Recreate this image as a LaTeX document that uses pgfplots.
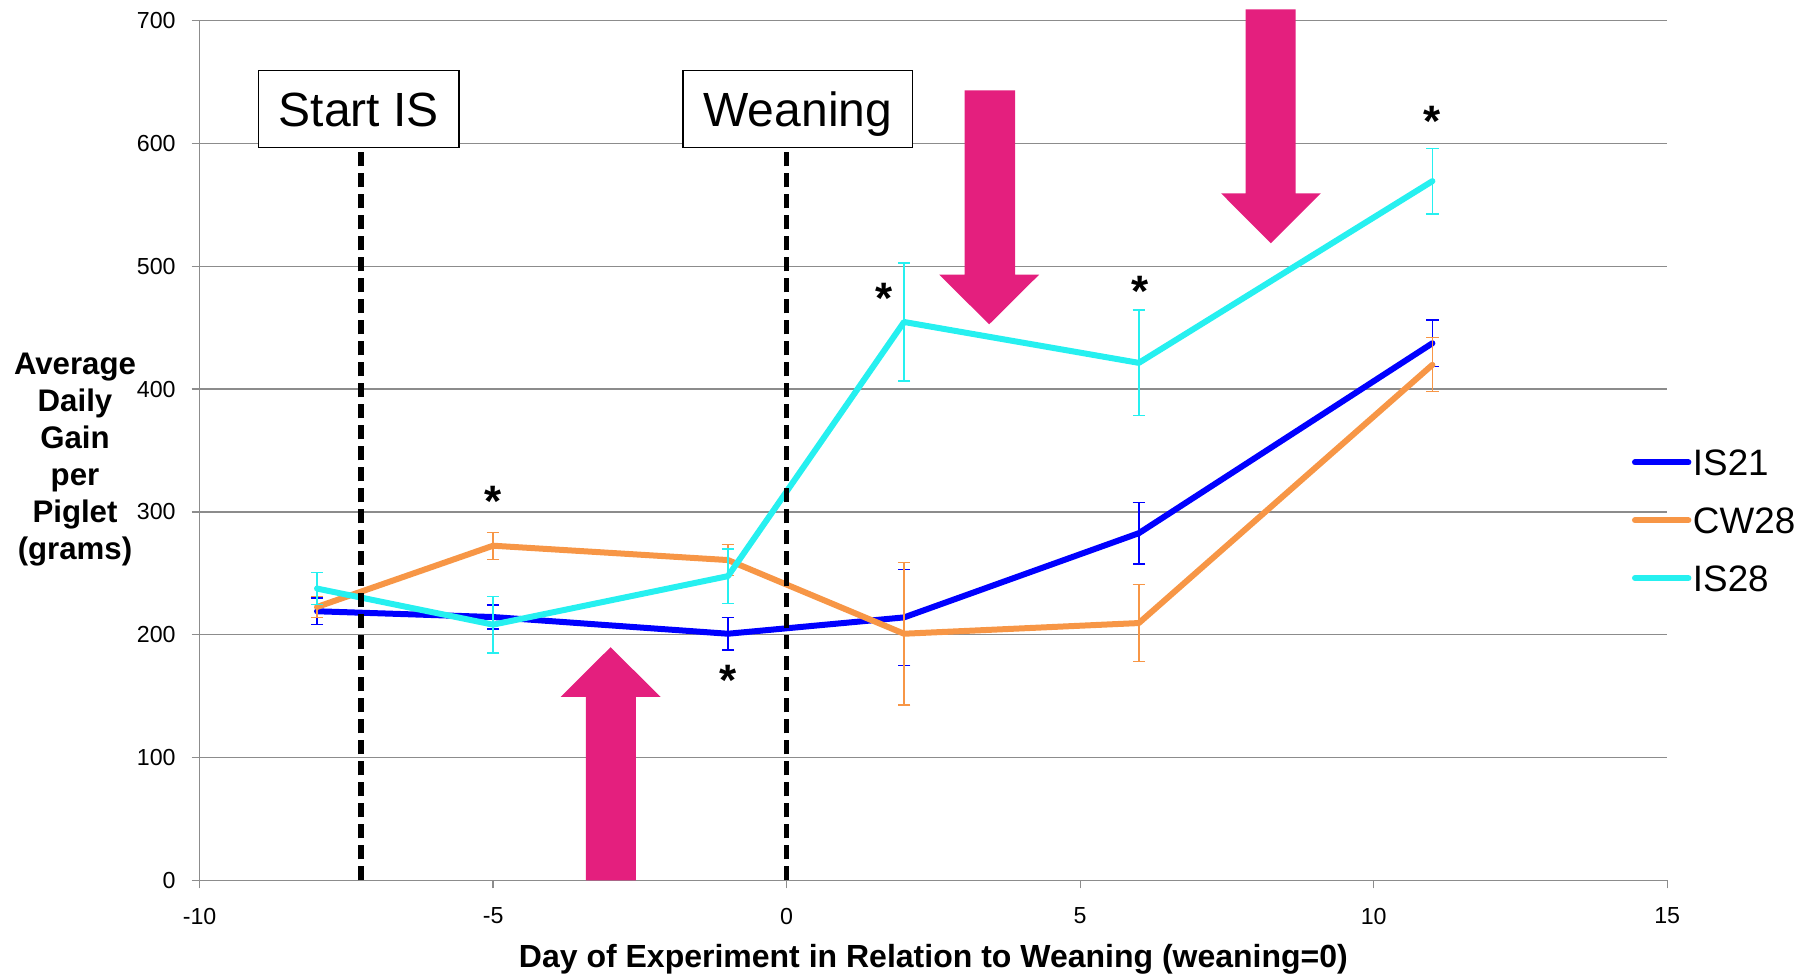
\documentclass[border=0pt]{standalone}
\usepackage{pgfplots}
\pgfplotsset{compat=1.18}
\usepackage{pgfplotstable}
\usepackage{fontspec}
\setmainfont{Liberation Sans}
\definecolor{cIS}{HTML}{0000FF}
\definecolor{cCW}{HTML}{F79646}
\definecolor{cIST}{HTML}{26F0F0}
\definecolor{cPink}{HTML}{E41F7E}
\definecolor{cGrid}{HTML}{8C8C8C}

\pgfplotstableread{
x y e
-8 219.1 10.8
-5 214.4 9.7
-1 200.8 13.2
2 214.1 38.9
6 282.7 25
11 437.4 19
}\tISa
\pgfplotstableread{
x y e
-8 222.6 8.6
-5 272.5 11
-1 260.8 12.8
2 200.8 58
6 209.5 31.5
11 419.8 22
}\tCW
\pgfplotstableread{
x y e
-8 237.6 13.2
-5 208.2 23
-1 247.7 22
2 454.7 48
6 421.4 43
11 569.4 26.7
}\tISb

\tikzset{star/.style={anchor=base, inner sep=0pt, yshift=-10.6pt, font=\bfseries\fontsize{22}{22}\selectfont}}

\begin{document}
\begin{tikzpicture}
\begin{axis}[
  scale only axis, width=733.8pt, height=429.75pt,
  xmin=-10, xmax=15, ymin=0, ymax=700,
  xtick distance=5, ytick distance=100,
  clip=false,
  axis lines=left, axis line style={-, cGrid, line width=0.65pt},
  tick align=outside, major tick length=4pt,
  tick style={cGrid, line width=0.65pt},
  ymajorgrids, major grid style={cGrid, line width=0.65pt},
  /pgf/number format/assume math mode=true,
  xticklabel style={font=\fontsize{11.6}{11.6}\selectfont, inner sep=0pt, anchor=north, yshift=-9.6pt},
  yticklabel style={font=\fontsize{11.6}{11.6}\selectfont, inner sep=0pt, anchor=east, xshift=-7.8pt},
  xlabel={Day of Experiment in Relation to Weaning (weaning=0)},
  xlabel style={at={(axis description cs:0.5,0)}, anchor=base, yshift=-43.5pt, inner sep=0pt, font=\bfseries\fontsize{16}{16}\selectfont},
  ylabel={Average\\Daily\\Gain\\per\\Piglet\\(grams)},
  ylabel style={rotate=-90, at={(axis description cs:0,0.4896)}, anchor=center, xshift=-62.3pt, align=center, inner sep=0pt, font=\bfseries\fontsize{15.6}{18.5}\selectfont},
  legend cell align=left,
  legend image code/.code={\draw[#1, line cap=round] (0pt,0pt) -- (26.7pt,0pt);},
  legend style={at={(axis cs:14.40,293.2)}, anchor=west, draw=none, fill=none, inner sep=0pt, outer sep=0pt, row sep=15.7pt, /tikz/column sep=0.8pt, font=\fontsize{18.4}{18.4}\selectfont, nodes={inner sep=0pt, text height=13.2pt, text depth=0pt}},
  every axis plot/.append style={line width=3pt, line join=round, line cap=round},
  error bars/error bar style={line width=0.65pt, line cap=butt},
  error bars/error mark options={rotate=90, mark size=3.1pt, line width=0.65pt},
]
\addplot[cIS, error bars/.cd, y dir=both, y explicit] table[x=x, y=y, y error=e] {\tISa};
\addlegendentry{IS21}
\addplot[cCW, error bars/.cd, y dir=both, y explicit] table[x=x, y=y, y error=e] {\tCW};
\addlegendentry{CW28}
\addplot[cIST, error bars/.cd, y dir=both, y explicit] table[x=x, y=y, y error=e] {\tISb};
\addlegendentry{IS28}

% vertical dashed event lines
\addplot[forget plot, black, line width=2.6pt, line cap=butt, dash pattern=on 7pt off 3.5pt] coordinates {(-7.25,0) (-7.25,596.6)};
\addplot[forget plot, black, line width=2.6pt, line cap=butt, dash pattern=on 7pt off 3.5pt] coordinates {(0,0) (0,596.6)};

% pink arrows
\addplot[forget plot, draw=none, fill=cPink] coordinates {(-3.42,0) (-3.42,149.3) (-3.85,149.3) (-3.0,189.8) (-2.145,149.3) (-2.57,149.3) (-2.57,0)} -- cycle;
\addplot[forget plot, draw=none, fill=cPink] coordinates {(3.03,643.4) (3.03,493.2) (2.60,493.2) (3.45,452.8) (4.30,493.2) (3.89,493.2) (3.89,643.4)} -- cycle;
\addplot[forget plot, draw=none, fill=cPink] coordinates {(7.82,709.3) (7.82,559.5) (7.40,559.5) (8.25,518.8) (9.10,559.5) (8.67,559.5) (8.67,709.3)} -- cycle;

% event boxes
\node[draw=black, line width=0.7pt, fill=white, minimum width=100.4pt, minimum height=38.7pt, inner sep=0pt, text height=17.2pt, text depth=0pt, font=\fontsize{24}{24}\selectfont] at (axis cs:-7.29,628.1) {Start IS};
\node[draw=black, line width=0.7pt, fill=white, minimum width=114.9pt, minimum height=38.7pt, inner sep=0pt, text height=17.2pt, text depth=0pt, font=\fontsize{24}{24}\selectfont] at (axis cs:0.19,628.1) {Weaning};

% significance stars
\node[star] at (axis cs:-5,313.9) {*};
\node[star] at (axis cs:-1,167.6) {*};
\node[star] at (axis cs:1.66,479) {*};
\node[star] at (axis cs:6.02,484.8) {*};
\node[star] at (axis cs:11,623) {*};

\path (rel axis cs:0,0) ++(-99.8pt,-47.85pt) coordinate (BL);
\path (rel axis cs:1,1) ++(70.9pt,10.4pt) coordinate (TR);
\end{axis}
\pgfresetboundingbox
\useasboundingbox (BL) rectangle (TR);
\end{tikzpicture}
\end{document}
